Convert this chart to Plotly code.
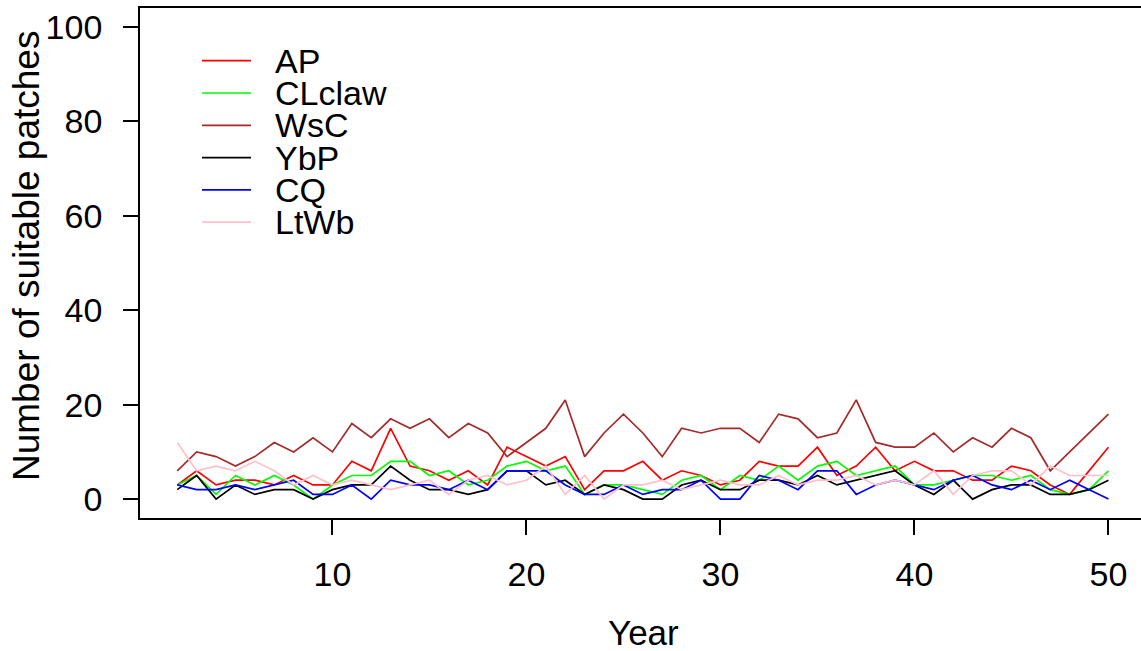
import plotly.graph_objects as go

# Years simulated
years = list(range(2, 51))

# Number of suitable patches per species, years 2..50
AP = [3, 6, 3, 4, 4, 3, 5, 3, 3, 8, 6, 15, 7, 6, 4, 6, 3, 11, 9, 7, 9, 2, 6, 6, 8, 4,
      6, 5, 3, 4, 8, 7, 7, 11, 5, 7, 11, 6, 8, 6, 6, 4, 4, 7, 6, 3, 1, 6, 11]
CLclaw = [3, 5, 1, 5, 3, 5, 3, 0, 3, 5, 5, 8, 8, 5, 6, 3, 4, 7, 8, 6, 7, 1, 3, 3, 2,
          1, 4, 5, 2, 5, 4, 7, 4, 7, 8, 5, 6, 7, 3, 3, 4, 5, 5, 4, 5, 2, 1, 2, 6]
WsC = [6, 10, 9, 7, 9, 12, 10, 13, 10, 16, 13, 17, 15, 17, 13, 16, 14, 9, 12, 15, 21,
       9, 14, 18, 14, 9, 15, 14, 15, 15, 12, 18, 17, 13, 14, 21, 12, 11, 11, 14, 10,
       13, 11, 15, 13, 6, 10, 14, 18]
YbP = [2, 5, 0, 3, 1, 2, 2, 0, 2, 3, 3, 7, 4, 2, 2, 1, 2, 6, 6, 3, 4, 1, 3, 2, 0, 0,
       3, 4, 2, 2, 4, 4, 3, 5, 3, 4, 5, 6, 3, 1, 4, 0, 2, 3, 3, 1, 1, 2, 4]
CQ = [3, 2, 2, 3, 2, 3, 4, 1, 1, 3, 0, 4, 3, 3, 2, 4, 2, 6, 6, 6, 3, 1, 1, 3, 1, 2,
      2, 4, 0, 0, 5, 4, 2, 6, 6, 1, 3, 4, 3, 2, 4, 5, 3, 2, 4, 2, 4, 2, 0]
LtWb = [12, 6, 7, 6, 8, 6, 3, 5, 3, 4, 3, 2, 3, 4, 1, 4, 5, 3, 4, 7, 1, 5, 0, 3, 3,
        4, 2, 3, 4, 3, 3, 5, 3, 4, 4, 5, 3, 4, 3, 6, 1, 5, 6, 6, 3, 7, 5, 5, 5]

series = [
    ("AP", AP, "#FF0000"),
    ("CLclaw", CLclaw, "#00FF00"),
    ("WsC", WsC, "#A52A2A"),
    ("YbP", YbP, "#000000"),
    ("CQ", CQ, "#0000FF"),
    ("LtWb", LtWb, "#FFC0CB"),
]

W, H = 1141, 651
L, R, T, B = 140, 0, 8, 133          # plot area: x 140..1141, y 8..518
PW, PH = W - L - R, H - T - B
FONT = "Liberation Sans, Arial, sans-serif"

fig = go.Figure()
for name, vals, col in series:
    fig.add_trace(go.Scatter(x=years, y=vals, mode="lines", name=name,
                             line=dict(color=col, width=1.7), showlegend=False))


def px(x):
    return (x - L) / PW


def py(y):
    return (H - B - y) / PH


# Legend drawn as line segments with labels
shapes, annotations = [], []
leg_y0, leg_dy = 60.7, 32.3
for i, (name, _, col) in enumerate(series):
    yy = leg_y0 + i * leg_dy
    shapes.append(dict(type="line", xref="paper", yref="paper",
                       x0=px(202), x1=px(251), y0=py(yy), y1=py(yy),
                       line=dict(color=col, width=1.7)))
    annotations.append(dict(text=name, xref="paper", yref="paper",
                            x=px(273), y=py(yy), xanchor="left", yanchor="middle",
                            showarrow=False, font=dict(size=34, color="black", family=FONT)))

# Axis titles
annotations.append(dict(text="Year", xref="paper", yref="paper",
                        x=px(643), y=py(632), xanchor="center", yanchor="middle",
                        showarrow=False, font=dict(size=35, color="black", family=FONT)))
annotations.append(dict(text="Number of suitable patches", xref="paper", yref="paper",
                        x=px(26), y=py(256), xanchor="center", yanchor="middle",
                        textangle=-90, showarrow=False,
                        font=dict(size=37, color="black", family=FONT)))

fig.update_layout(
    width=W, height=H,
    margin=dict(l=L, r=R, t=T, b=B, pad=0),
    paper_bgcolor="white", plot_bgcolor="white",
    font=dict(family=FONT, color="black"),
    shapes=shapes, annotations=annotations,
    showlegend=False,
)
fig.update_xaxes(range=[0.08, 0.08 + PW / 19.4], tickvals=[10, 20, 30, 40, 50],
                 showgrid=False, zeroline=False, showline=True, mirror=True,
                 linecolor="black", linewidth=1.8, ticks="outside", ticklen=15,
                 tickwidth=1.5, tickcolor="black", ticklabelstandoff=10,
                 tickfont=dict(size=34, family=FONT, color="black"))
fig.update_yaxes(range=[-4, 104], tickvals=[0, 20, 40, 60, 80, 100],
                 showgrid=False, zeroline=False, showline=True, mirror=False,
                 linecolor="black", linewidth=1.8, ticks="outside", ticklen=15,
                 tickwidth=1.5, tickcolor="black", ticklabelstandoff=14,
                 tickfont=dict(size=34, family=FONT, color="black"))

fig.write_html("out.html")
